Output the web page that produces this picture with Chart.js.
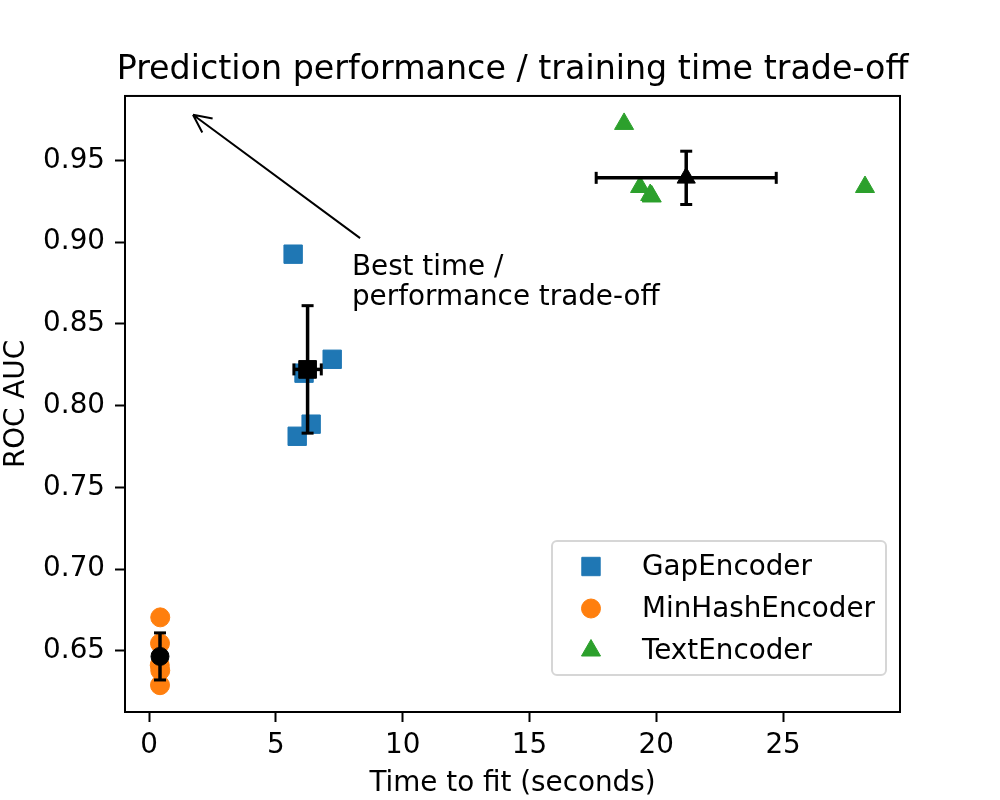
<!DOCTYPE html>
<html>
<head>
<meta charset="utf-8">
<script src="https://cdn.jsdelivr.net/npm/chart.js@4.4.0/dist/chart.umd.min.js"></script>
<style>
  html, body { margin: 0; padding: 0; background: #fff; }
  #wrap { width: 1000px; height: 800px; }
</style>
</head>
<body>
<div id="wrap"><canvas id="chart" width="1000" height="800"></canvas></div>
<script>
const encoders = ["GapEncoder", "MinHashEncoder", "TextEncoder"];
const colors = ["#1f77b4", "#ff7f0e", "#2ca02c"];
const markers = ["rect", "circle", "triangle"];
const markerRadius = [13, 9.5, 11];

// time to fit (s) and ROC AUC for every run
const gapTime = [5.68, 7.22, 6.11, 6.39, 5.84];
const gapAuc = [0.8927, 0.8284, 0.8199, 0.7887, 0.7813];
const minhashTime = [0.44, 0.43, 0.42, 0.44, 0.43];
const minhashAuc = [0.6705, 0.6546, 0.6412, 0.6380, 0.6290];
const textTime = [18.73, 19.36, 19.76, 28.23, 19.82];
const textAuc = [0.9724, 0.9338, 0.9289, 0.9338, 0.9280];

// mean and std per encoder (black markers + error bars)
const meanTime = [6.25, 0.43, 21.18];
const stdTime = [0.54, 0.02, 3.55];
const meanAuc = [0.8222, 0.6466, 0.9394];
const stdAuc = [0.039, 0.0144, 0.0163];

const xLimits = [-0.95, 29.61];
const yLimits = [0.6126, 0.9895];

// annotation
const arrowTip = [1.73, 0.978];
const arrowTail = [8.32, 0.9025];
const noteAt = [8.0, 0.88];
const noteLines = ["Best time /", "performance trade-off"];

const family = "'DejaVu Sans', sans-serif";
const fs = 27.8;
Chart.defaults.font.family = family;
Chart.defaults.color = "#000";

const runs = [[gapTime, gapAuc], [minhashTime, minhashAuc], [textTime, textAuc]];
let datasets = [];

runs.forEach((r, i) => {
  datasets.push({
    label: encoders[i],
    data: r[0].map((t, k) => ({x: t, y: r[1][k]})),
    pointStyle: markers[i],
    pointRadius: markerRadius[i],
    pointHoverRadius: markerRadius[i],
    backgroundColor: colors[i],
    borderColor: colors[i],
    pointBorderWidth: 1,
    order: 2
  });
});

for (let i = 0; i < 3; i++) {
  let bar = {
    showLine: true,
    borderColor: "#000",
    borderWidth: 3.5,
    pointStyle: "line",
    pointRadius: 6,
    pointBorderWidth: 3,
    pointBorderColor: "#000",
    pointBackgroundColor: "#000",
    order: 1
  };
  datasets.push(Object.assign({}, bar, {
    data: [{x: meanTime[i], y: meanAuc[i] - stdAuc[i]}, {x: meanTime[i], y: meanAuc[i] + stdAuc[i]}]
  }));
  datasets.push(Object.assign({}, bar, {
    pointRotation: 90,
    data: [{x: meanTime[i] - stdTime[i], y: meanAuc[i]}, {x: meanTime[i] + stdTime[i], y: meanAuc[i]}]
  }));
  datasets.push({
    data: [{x: meanTime[i], y: meanAuc[i]}],
    pointStyle: markers[i],
    pointRadius: markerRadius[i] - 0.5,
    backgroundColor: "#000",
    borderColor: "#000",
    pointBorderWidth: 1,
    order: 0
  });
}

const decorations = {
  id: "decorations",
  afterLayout(chart) {
    // title is centred on the axes but a bit wider than them
    const t = chart.titleBlock;
    t.left -= 40;
    t.right += 40;
    t.width += 80;
  },
  afterDraw(chart) {
    const ctx = chart.ctx;
    const a = chart.chartArea;
    const xs = chart.scales.x, ys = chart.scales.y;
    ctx.save();

    // axes frame
    ctx.strokeStyle = "#000";
    ctx.lineWidth = 2;
    ctx.strokeRect(a.left, a.top, a.right - a.left, a.bottom - a.top);

    // arrow
    const x0 = xs.getPixelForValue(arrowTail[0]), y0 = ys.getPixelForValue(arrowTail[1]);
    const x1 = xs.getPixelForValue(arrowTip[0]), y1 = ys.getPixelForValue(arrowTip[1]);
    const ang = Math.atan2(y0 - y1, x0 - x1);
    ctx.beginPath();
    ctx.moveTo(x0, y0);
    ctx.lineTo(x1, y1);
    for (const d of [-0.45, 0.45]) {
      ctx.moveTo(x1, y1);
      ctx.lineTo(x1 + 20 * Math.cos(ang + d), y1 + 20 * Math.sin(ang + d));
    }
    ctx.lineWidth = 2;
    ctx.stroke();

    // note text
    ctx.fillStyle = "#000";
    ctx.font = fs + "px " + family;
    ctx.textAlign = "left";
    ctx.textBaseline = "alphabetic";
    const nx = xs.getPixelForValue(noteAt[0]), ny = ys.getPixelForValue(noteAt[1]);
    noteLines.forEach((t, k) => ctx.fillText(t, nx, ny + k * 30.5));

    // legend
    const textW = Math.max(...encoders.map(t => ctx.measureText(t).width));
    const w = 90 + textW + 11, h = 134;
    const left = a.right - 14 - w, top = a.bottom - 37 - h;
    ctx.beginPath();
    ctx.roundRect(left, top, w, h, 5);
    ctx.fillStyle = "rgba(255,255,255,0.8)";
    ctx.fill();
    ctx.strokeStyle = "#d6d6d6";
    ctx.lineWidth = 2;
    ctx.stroke();
    encoders.forEach((name, i) => {
      const y = top + 25.5 + i * 42;
      ctx.fillStyle = colors[i];
      ctx.strokeStyle = colors[i];
      ctx.lineWidth = 1;
      Chart.helpers.drawPoint(ctx, {pointStyle: markers[i], radius: markerRadius[i], borderWidth: 1, rotation: 0}, left + 39, y);
      ctx.fillStyle = "#000";
      ctx.fillText(name, left + 90, y + 8);
    });
    ctx.restore();
  }
};

new Chart(document.getElementById("chart"), {
  type: "scatter",
  data: {datasets},
  options: {
    responsive: false,
    animation: false,
    layout: {padding: {left: 0, right: 100, top: 0, bottom: 0}},
    plugins: {
      legend: {display: false},
      tooltip: {enabled: false},
      title: {
        display: true,
        fullSize: false,
        text: "Prediction performance / training time trade-off",
        color: "#000",
        font: {size: 33.3, weight: "normal", family},
        padding: {top: 50.5, bottom: 5.5}
      }
    },
    scales: {
      x: {
        type: "linear",
        min: xLimits[0],
        max: xLimits[1],
        afterFit: (s) => { s.height = 88; },
        border: {display: true, color: "#000", width: 2},
        grid: {display: true, drawOnChartArea: false, drawTicks: true, tickLength: 10, tickWidth: 2, tickColor: "#000"},
        ticks: {stepSize: 5, includeBounds: false, padding: 7, color: "#000", font: {size: fs}, maxRotation: 0},
        title: {display: true, text: "Time to fit (seconds)", color: "#000", font: {size: fs}, padding: {top: 0, bottom: 0}}
      },
      y: {
        type: "linear",
        min: yLimits[0],
        max: yLimits[1],
        afterFit: (s) => { s.width = 125; },
        border: {display: true, color: "#000", width: 2},
        grid: {display: true, drawOnChartArea: false, drawTicks: true, tickLength: 10, tickWidth: 2, tickColor: "#000"},
        ticks: {stepSize: 0.05, includeBounds: false, padding: 10, color: "#000", font: {size: fs},
          callback: (v) => v.toFixed(2)},
        title: {display: true, text: "ROC AUC", color: "#000", font: {size: fs}, padding: {top: 0, bottom: 0}}
      }
    }
  },
  plugins: [decorations]
});
</script>
</body>
</html>
